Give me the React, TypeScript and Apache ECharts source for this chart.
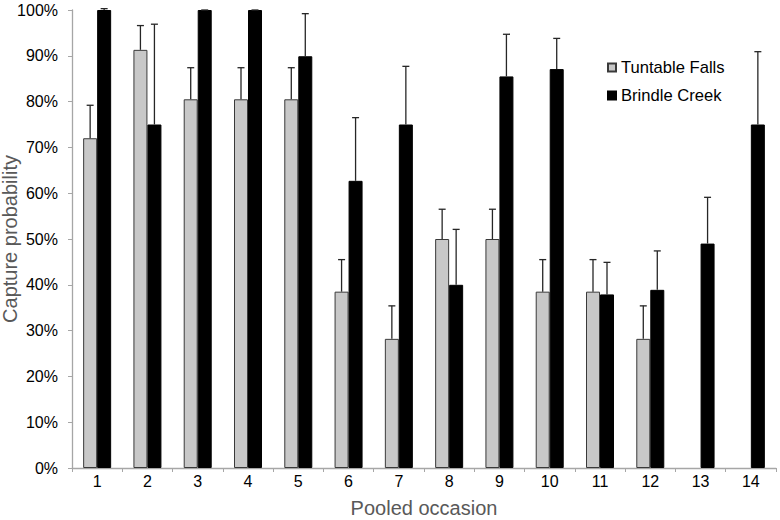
import React, { useEffect, useRef } from "react";
import * as echarts from "echarts";

const categories = ["1", "2", "3", "4", "5", "6", "7", "8", "9", "10", "11", "12", "13", "14"];
const tuntableValues: (number | null)[] = [72, 91.3, 80.5, 80.5, 80.5, 38.5, 28.2, 50, 50, 38.5, 38.5, 28.2, null, null];
const tuntableUpper: (number | null)[] = [79.2, 96.6, 87.4, 87.4, 87.4, 45.5, 35.4, 56.5, 56.5, 45.5, 45.5, 35.4, null, null];
const brindleValues: number[] = [100, 75, 100, 100, 89.9, 62.7, 75, 40, 85.5, 87.1, 37.9, 38.9, 49, 75];
const brindleUpper: number[] = [100.3, 96.9, 100, 100, 99.2, 76.5, 87.7, 52.1, 94.7, 93.8, 44.9, 47.4, 59.1, 90.9];
const yTicks = [0, 10, 20, 30, 40, 50, 60, 70, 80, 90, 100];

export default function App() {
  const ref = useRef<HTMLDivElement>(null);
  useEffect(() => {
    if (!ref.current) return;
    const chart = echarts.init(ref.current, undefined, { renderer: "svg" });
    const font = "Liberation Sans, Arial, sans-serif";
    const errData = (vals: (number | null)[], ups: (number | null)[]) =>
      vals.map((v, i) => (v == null || ups[i] == null ? [i, null, null] : [i, v, ups[i]]));
    const makeErr = (offset: number) => (params: any, api: any) => {
      const v = api.value(1);
      const u = api.value(2);
      if (v == null || u == null || isNaN(v) || isNaN(u)) return null;
      const p0 = api.coord([api.value(0), v]);
      const p1 = api.coord([api.value(0), u]);
      const x = p0[0] + offset;
      const style = { stroke: "#262626", lineWidth: 1.3 };
      return {
        type: "group",
        children: [
          { type: "line", shape: { x1: x, y1: p0[1], x2: x, y2: p1[1] }, style },
          { type: "line", shape: { x1: x - 3.5, y1: p1[1], x2: x + 3.5, y2: p1[1] }, style },
        ],
      };
    };
    chart.setOption({
      animation: false,
      backgroundColor: "#fff",
      grid: { left: 72, right: 4, top: 10, bottom: 52, containLabel: false, outerBoundsMode: "none" },
      legend: {
        data: ["Tuntable Falls", "Brindle Creek"],
        orient: "vertical",
        left: 602,
        top: 54,
        itemWidth: 8,
        itemHeight: 8,
        itemGap: 11,
        icon: "rect",
        textStyle: { fontFamily: font, fontSize: 16.6, color: "#000" },
      },
      xAxis: {
        type: "category",
        data: categories,
        name: "Pooled occasion",
        nameLocation: "middle",
        nameGap: 30,
        nameMoveOverlap: false,
        nameTextStyle: { fontFamily: font, fontSize: 20, color: "#595959" },
        axisLine: { lineStyle: { color: "#a6a6a6", width: 1.3 } },
        axisTick: { show: true, length: 4, lineStyle: { color: "#a6a6a6" } },
        axisLabel: { fontFamily: font, fontSize: 16, color: "#000", margin: 5 },
      },
      yAxis: {
        type: "value",
        min: yTicks[0],
        max: yTicks[yTicks.length - 1],
        interval: 10,
        name: "Capture probability",
        nameLocation: "middle",
        nameGap: 52,
        nameMoveOverlap: false,
        nameTextStyle: { fontFamily: font, fontSize: 20, color: "#595959" },
        axisLine: { show: true, lineStyle: { color: "#a6a6a6", width: 1.3 } },
        axisTick: { show: true, length: 4, lineStyle: { color: "#a6a6a6" } },
        splitLine: { show: false },
        axisLabel: { fontFamily: font, fontSize: 16, color: "#000", margin: 14, formatter: "{value}%" },
      },
      series: [
        {
          name: "Tuntable Falls",
          type: "bar",
          data: tuntableValues,
          barWidth: 14,
          barGap: "0%",
          itemStyle: { color: "#c8c8c8", borderColor: "#3a3a3a", borderWidth: 1 },
        },
        {
          name: "Brindle Creek",
          type: "bar",
          data: brindleValues,
          barWidth: 14,
          barGap: "0%",
          itemStyle: { color: "#000", borderColor: "#000", borderWidth: 1 },
        },
        {
          type: "custom",
          renderItem: makeErr(-7),
          data: errData(tuntableValues, tuntableUpper),
          encode: { x: 0, y: [1, 2] },
          z: 3,
        },
        {
          type: "custom",
          renderItem: makeErr(7),
          data: errData(brindleValues, brindleUpper),
          encode: { x: 0, y: [1, 2] },
          z: 3,
        },
      ],
    });
    return () => chart.dispose();
  }, []);
  return <div ref={ref} style={{ width: 780, height: 520, position: "absolute", left: 0, top: 0 }} />;
}
